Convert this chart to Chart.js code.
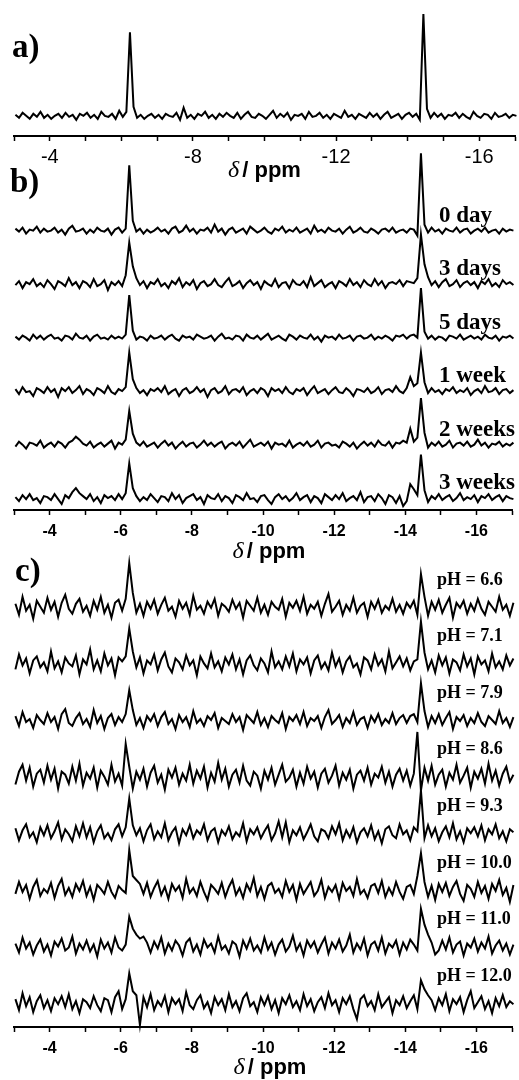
<!DOCTYPE html>
<html>
<head>
<meta charset="utf-8">
<script src="https://cdn.jsdelivr.net/npm/chart.js@4.4.0/dist/chart.umd.min.js"></script>
<style>
  html, body { margin: 0; padding: 0; background: #fff; }
  body { width: 519px; height: 1080px; position: relative; overflow: hidden; }
  .panel { position: absolute; left: 0; width: 519px; }
  #panelA { top: 0; height: 185px; }
  #panelB { top: 145px; height: 425px; }
  #panelC { top: 555px; height: 525px; }
</style>
</head>
<body>
<div class="panel" id="panelA"><canvas id="chartA"></canvas></div>
<div class="panel" id="panelB"><canvas id="chartB"></canvas></div>
<div class="panel" id="panelC"><canvas id="chartC"></canvas></div>
<script>
// chemical shift of each sample point (ppm), 0.1 ppm apart
const shifts = [];
for (let i = 0; i <= 140; i++) shifts.push(+(-3.04 - 0.1 * i).toFixed(2));

// a) reference spectrum
const specA = [
  1,-2,3,0,-3,2,-1,4,-2,1,
  -3,0,2,-2,3,-1,1,-4,2,0,
  3,-2,1,-3,4,0,-1,2,-3,5,
  -1,4,83,9,-2,1,-3,0,2,-2,
  1,-3,2,0,-1,3,-4,8,-2,1,
  -3,2,0,4,-2,1,-3,2,-1,3,
  0,-2,3,-3,1,4,-1,-2,2,0,
  -3,1,5,-2,2,-1,3,-4,1,0,
  2,-3,4,-1,0,3,-2,1,-3,2,
  0,-2,5,-1,1,-3,2,0,-2,3,
  -1,2,-3,1,4,-2,0,2,-3,1,
  3,-1,2,-4,101,7,-2,3,-1,2,
  -3,1,0,3,-2,2,-1,-3,4,0,
  -2,2,1,-3,3,-1,0,2,-2,1,
  0
];

// b) ageing series
const day0 = [
  2,-1,3,-3,1,0,4,-2,2,-1,
  0,3,-2,1,-4,2,5,-1,0,2,
  -3,1,-2,3,0,-1,2,-4,1,3,
  -2,2,66,10,-1,2,-3,1,-2,0,
  3,-1,1,-3,2,4,-2,0,5,-1,
  2,-3,1,0,3,-2,6,-1,2,-4,
  1,3,-2,0,2,-3,4,1,-2,0,
  3,-1,-3,2,0,4,-2,1,-1,3,
  -2,0,2,-3,5,-1,1,-2,3,0,
  -1,2,-3,1,4,-2,0,3,-1,-2,
  2,0,-3,1,2,-1,3,-2,0,1,
  -2,2,1,-5,78,6,-2,3,-1,1,
  -3,2,0,-1,3,-2,1,2,-3,0,
  2,-1,3,-2,0,1,-3,2,-1,1,
  0
];
const day3 = [
  -1,3,-4,2,0,5,-2,1,-3,4,
  0,-5,3,1,-2,6,-1,2,-4,3,
  1,-3,5,-2,0,4,-6,2,-1,3,
  -2,9,42,18,6,-1,3,-4,2,0,
  5,-2,1,-4,3,0,6,-3,2,-1,
  4,-5,1,3,-2,0,5,-1,-3,2,
  6,-2,0,3,-4,1,4,-1,2,-5,
  3,0,-2,5,-3,1,2,-4,4,0,
  -1,3,-3,7,-2,1,4,-3,0,2,
  -4,3,1,-2,5,-1,2,-3,4,0,
  -2,5,-1,3,-4,1,2,0,4,-2,
  3,2,1,6,50,20,7,-1,3,-3,
  2,5,-2,0,4,-3,1,3,-1,2,
  -4,3,0,5,-2,1,-3,4,0,2,
  -1
];
const day5 = [
  1,-2,2,0,-3,3,-1,2,-2,1,
  3,-1,0,-3,2,1,-2,4,0,-1,
  2,-3,1,3,-1,0,-2,2,-1,1,
  -1,3,43,7,-2,1,0,-3,2,-1,
  0,2,-2,1,3,-1,-3,2,0,1,
  -2,3,1,-1,0,2,-3,1,4,-1,
  0,-2,2,1,-3,3,0,-1,2,-2,
  1,4,-2,0,2,-1,-3,3,1,-2,
  2,0,-1,3,-2,1,-4,2,0,1,
  -2,3,-1,0,2,-3,1,2,-1,0,
  3,-2,1,-1,2,0,-3,2,1,3,
  -1,2,3,0,50,6,-1,2,-2,1,
  0,-3,2,1,-1,3,-2,0,2,-1,
  1,-2,3,0,-1,2,-3,1,0,2,
  -1
];
const week1 = [
  2,-3,4,-1,0,-5,3,1,-2,4,
  -1,2,-6,3,0,4,-2,1,5,-3,
  2,0,-4,3,1,-2,5,-1,-3,2,
  0,4,39,12,3,-2,1,-4,2,0,
  3,-1,5,-3,0,2,-5,1,3,-2,
  0,4,-1,2,-6,1,3,-2,0,5,
  -3,1,2,-1,4,-4,0,2,-2,3,
  1,-5,3,0,2,-2,4,-1,-3,2,
  0,3,-4,1,5,-2,0,2,-3,1,
  4,-1,-2,3,0,-5,2,1,-1,3,
  -2,0,4,-3,1,2,-1,5,0,-2,
  3,14,5,8,39,9,-2,3,-1,1,
  -3,2,0,4,-2,1,-1,3,-4,0,
  2,-2,5,-1,0,3,-3,1,2,-2,
  1
];
const week2 = [
  -2,3,0,-4,2,1,-1,4,-3,0,
  2,-2,3,1,-3,2,4,8,5,1,
  -1,3,-3,0,2,-2,1,4,-4,2,
  0,5,34,11,2,-1,3,-2,0,2,
  -3,1,4,-1,2,-4,0,3,-2,1,
  2,-3,0,4,-1,2,-2,1,3,-4,
  0,2,-1,3,-3,1,5,-2,0,2,
  -1,3,-4,2,0,1,-2,4,-3,0,
  2,-1,3,-2,0,4,-3,1,2,-1,
  0,-3,3,1,-2,2,-4,0,3,-1,
  2,-2,4,0,-1,3,-3,2,1,4,
  2,16,3,7,47,12,-3,2,-1,3,
  -2,0,4,-3,1,2,-1,3,-2,0,
  5,-1,2,-3,1,0,3,-2,1,-1,
  2
];
const week3 = [
  1,-3,3,-1,4,-2,0,-5,2,1,
  -2,4,-1,-6,3,0,6,10,5,2,
  -1,4,-3,1,-5,3,0,2,-2,4,
  -1,5,35,10,2,-3,1,-2,4,0,
  -4,2,1,-3,5,-1,3,-5,0,2,
  4,-2,1,-6,3,0,-1,4,-3,2,
  0,-5,3,1,-2,5,-1,0,-4,2,
  3,-2,-6,1,4,-1,2,-3,0,5,
  -2,1,3,-4,2,0,-5,4,1,-2,
  3,-1,5,-3,0,2,-2,6,-4,1,
  2,-3,4,0,-6,3,1,-5,2,-8,
  -3,14,9,3,44,8,-4,2,-1,4,
  -2,1,3,-3,0,5,-2,1,-1,3,
  -4,2,0,4,-2,1,3,-3,2,0,
  -1
];
const ageLabels = ['0 day', '3 days', '5 days', '1 week', '2 weeks', '3 weeks'];

// c) pH series
const ph66 = [
  3,-8,10,-4,2,-12,6,0,-6,9,
  -3,5,-10,4,12,-2,-7,3,8,-5,
  1,-9,6,-3,10,-6,2,-11,4,7,
  -4,8,44,14,-6,3,-9,5,-2,7,
  -7,2,9,-4,0,-10,6,-2,4,-8,
  11,-3,1,-7,5,-1,8,-9,3,0,
  -5,7,-2,4,-11,6,1,-4,9,-6,
  2,-8,5,0,-3,8,-10,4,-1,6,
  -4,10,-7,2,-2,5,-9,3,13,-5,
  0,6,-8,2,-4,9,-6,1,4,-10,
  5,-2,7,-6,1,-3,8,-5,2,-7,
  4,-1,6,-8,33,10,-9,5,-3,7,
  -6,2,9,-11,4,-1,6,-7,3,-4,
  8,-2,-8,5,0,-5,10,-3,2,-9,
  4
];
const ph71 = [
  -6,9,-2,5,-10,3,7,-4,1,-8,
  12,-5,2,-9,6,0,-3,8,-11,4,
  -1,14,-6,3,-8,10,-2,5,-12,6,
  2,7,35,12,-4,6,-10,3,-1,9,
  -7,4,11,-3,-9,5,1,-6,8,-2,
  3,-12,7,0,-5,10,-4,2,-8,6,
  -1,9,-6,4,-11,3,8,-2,-7,5,
  0,-9,12,-4,2,-6,7,-3,10,-8,
  4,-1,6,-10,3,8,-5,1,-7,11,
  -3,5,-9,2,7,-4,0,-11,6,3,
  -6,9,-2,4,-8,12,-5,1,7,-3,
  5,-7,2,4,42,11,-6,3,-9,8,
  -2,6,-10,4,1,-7,9,-3,5,-11,
  7,-1,3,-8,10,-4,2,-6,8,-2,
  5
];
const ph79 = [
  4,-6,8,-2,1,-8,5,0,-4,7,
  -2,3,-9,6,11,-3,-6,2,7,-4,
  1,-7,10,-3,4,-9,2,6,-5,3,
  -2,6,30,10,-5,2,-8,4,-1,6,
  -6,3,8,-4,1,-9,5,-2,3,-7,
  9,-3,1,-6,4,0,7,-8,2,-1,
  -4,6,-2,3,-10,5,1,-3,8,-5,
  2,-7,4,0,-3,7,-9,3,-1,5,
  -4,8,-6,2,-1,4,-8,3,10,-4,
  0,5,-7,2,-3,8,-5,1,3,-8,
  4,-2,6,-5,1,-3,7,-4,2,5,
  -3,4,6,-2,37,9,-7,4,-3,6,
  -5,2,8,-9,3,-1,5,-6,2,-3,
  7,-2,-6,4,0,-4,9,-3,2,-7,
  3
];
const ph86 = [
  -8,5,12,-4,9,-10,3,7,-6,11,
  -3,8,-12,5,2,-7,10,-4,13,-9,
  4,-2,9,-11,6,0,-8,12,-5,3,
  -9,33,10,-12,5,-3,8,-10,4,11,
  -6,2,-13,7,-1,9,-8,3,-4,12,
  -7,6,-2,10,-11,4,-5,14,-3,8,
  -10,2,7,-6,11,-4,-9,5,1,-12,
  6,-3,9,-8,2,12,-5,-1,7,-10,
  4,-7,10,-2,5,-11,3,8,-6,1,
  11,-9,4,-3,7,-12,2,6,-4,9,
  -8,3,-1,10,-6,5,-10,2,8,-4,
  6,-9,3,45,-14,9,-4,11,-8,2,
  7,-10,4,-3,12,-6,1,9,-11,5,
  -2,8,-7,13,-4,6,-9,3,10,-5,
  2
];
const ph93 = [
  5,-7,3,9,-4,1,-9,6,-2,8,
  -5,2,11,-6,4,-1,-8,7,-3,10,
  -4,6,-9,2,8,-5,0,-7,4,9,
  -3,6,35,8,-2,5,-8,3,9,-6,
  2,-4,10,-7,1,6,-10,4,-2,8,
  -5,3,-1,9,-7,2,5,-9,3,-2,
  7,-6,1,-3,10,-8,4,-1,6,-5,
  2,8,-7,0,12,-4,11,-9,3,-2,
  6,-6,1,9,-3,-8,4,2,-5,7,
  -1,10,-7,3,-4,6,-9,1,5,-3,
  8,-6,2,-10,4,7,-2,-5,9,-1,
  3,-7,6,2,43,-5,8,-3,5,-8,
  1,7,-4,10,-6,2,-9,5,0,6,
  -3,8,-7,4,-1,9,-5,2,-8,4,
  1
];
const ph100 = [
  -4,8,-2,5,-9,3,10,-6,1,-3,
  7,-8,4,11,-5,2,-7,6,-1,9,
  -6,3,-10,5,1,-4,8,-2,-8,4,
  0,-3,40,14,10,6,-4,7,-7,2,
  9,-5,3,-9,6,-1,4,-8,11,-3,
  2,-6,8,-2,-10,5,1,-4,7,-7,
  3,10,-5,2,-8,6,-1,12,-6,3,
  -9,4,7,-3,1,-7,9,-2,5,-10,
  6,-4,2,8,-6,-1,10,-8,3,-2,
  5,-9,7,-1,3,-6,11,-4,0,-8,
  4,6,-3,9,-7,2,-5,8,-2,-9,
  3,5,-4,14,37,8,-7,4,-10,6,
  -2,7,-6,3,9,-4,-11,5,1,-7,
  8,-3,4,-9,6,-1,10,-5,2,-12,
  5
];
const ph110 = [
  3,-6,9,-2,4,-8,1,7,-5,2,
  -9,5,0,8,-4,-1,10,-7,3,-3,
  6,-5,2,-10,7,-2,4,-6,9,-1,
  -4,2,30,18,12,8,10,4,-6,5,
  -2,9,-7,3,-4,6,1,-9,4,8,
  -5,2,-8,7,-1,3,-6,10,-3,1,
  -7,5,2,-10,6,-2,8,-4,1,-6,
  9,-3,4,-8,2,7,-5,0,11,-4,
  3,-9,6,-1,5,-6,2,9,-7,4,
  -2,7,-5,1,12,-6,3,-3,8,-9,
  2,5,-4,9,-7,3,-1,6,-8,4,
  -3,7,2,-4,38,22,12,4,-8,-4,
  6,-3,9,-6,2,5,-9,3,-1,8,
  -5,4,-2,10,-7,1,6,-4,3,-8,
  2
];
const ph120 = [
  4,-7,10,-3,6,-9,2,8,-5,3,
  -8,5,-1,7,-4,9,-6,2,-10,4,
  1,-5,7,-2,-8,5,3,-9,6,12,
  -6,4,30,12,8,-22,6,-4,9,-7,
  2,-3,7,-9,5,-1,4,-8,11,-2,
  -6,3,8,-5,1,-10,6,-2,4,-7,
  9,-4,2,-8,5,10,-3,1,-9,6,
  -2,7,-6,3,-10,5,-1,8,-4,2,
  -7,9,-3,4,-8,1,6,-5,10,-2,
  3,-9,5,-1,7,-6,-16,4,8,-3,
  2,-7,9,-4,1,6,-10,3,-2,7,
  -5,2,8,-6,23,14,8,3,-7,5,
  -2,9,-8,4,-1,6,-9,3,12,-5,
  1,7,-6,2,-10,5,-3,8,-4,2,
  -1
];
const phLabels = ['pH = 6.6', 'pH = 7.1', 'pH = 7.9', 'pH = 8.6', 'pH = 9.3', 'pH = 10.0', 'pH = 11.0', 'pH = 12.0'];

function toPoints(values) {
  return values.map((v, i) => ({ x: shifts[i], y: v }));
}

// draws panel letter, trace captions and the "δ / ppm" axis title
const panelText = {
  id: 'panelText',
  afterDraw(chart, args, opts) {
    const ctx = chart.ctx;
    const area = chart.chartArea;
    ctx.save();
    ctx.fillStyle = '#000';
    ctx.textBaseline = 'middle';
    ctx.textAlign = 'left';

    ctx.font = 'bold 33px "Liberation Serif"';
    ctx.fillText(opts.letter, opts.letterX, opts.letterY);

    if (opts.labels) {
      ctx.font = opts.labelFont;
      opts.labels.forEach((txt, i) => {
        const scale = chart.scales['y' + i];
        ctx.fillText(txt, opts.labelX, scale.getPixelForValue(opts.labelAt));
      });
    }

    const cx = (area.left + area.right) / 2 + opts.titleShift;
    ctx.font = 'italic 24px "Liberation Serif"';
    const wd = ctx.measureText('δ').width;
    ctx.font = 'bold 22px "Liberation Sans"';
    const wr = ctx.measureText('/ ppm').width;
    const x0 = cx - (wd + 3 + wr) / 2;
    ctx.font = 'italic 24px "Liberation Serif"';
    ctx.fillText('δ', x0, opts.titleY);
    ctx.font = 'bold 22px "Liberation Sans"';
    ctx.fillText('/ ppm', x0 + wd + 3, opts.titleY);
    ctx.restore();
  }
};

function xAxis(labelEvery, font, pad) {
  return {
    type: 'linear', position: 'bottom', reverse: true, min: -17, max: -3,
    border: { display: true, color: '#000', width: 2 },
    grid: { drawOnChartArea: false, drawTicks: true, tickLength: 5, tickWidth: 1.5, tickColor: '#000' },
    ticks: {
      stepSize: 1, autoSkip: false, maxRotation: 0, color: '#000', padding: pad, font: font,
      callback: v => (v % labelEvery === 0 && v !== -3 && v !== -17) ? String(v) : ''
    }
  };
}

function buildChart(canvasId, series, yMin, yMax, padding, xOpts, textOpts) {
  const scales = { x: xOpts };
  const datasets = series.map((vals, i) => {
    scales['y' + i] = { type: 'linear', position: 'right', stack: 'traces', stackWeight: 1, min: yMin, max: yMax, display: false };
    return {
      data: toPoints(vals), yAxisID: 'y' + i, xAxisID: 'x',
      borderColor: '#000', borderWidth: 2, pointRadius: 0, tension: 0, clip: false
    };
  });
  return new Chart(document.getElementById(canvasId), {
    type: 'line',
    data: { datasets },
    options: {
      responsive: true, maintainAspectRatio: false, animation: false, events: [],
      layout: { padding },
      scales,
      plugins: { legend: { display: false }, tooltip: { enabled: false }, panelText: textOpts }
    },
    plugins: [panelText]
  });
}

buildChart('chartA', [specA], -20, 105,
  { top: 10, bottom: 12, left: 14, right: 1 },
  xAxis(4, { family: 'Liberation Sans', size: 20 }, 4),
  { letter: 'a)', letterX: 12, letterY: 48, titleY: 171, titleShift: 0 });

buildChart('chartB', [day0, day3, day5, week1, week2, week3], -12, 42,
  { top: 44, bottom: 21.8, left: 14, right: 1 },
  xAxis(2, { family: 'Liberation Sans', size: 16, weight: 'bold' }, 7),
  { letter: 'b)', letterX: 10, letterY: 38, titleY: 407, titleShift: 6,
    labels: ageLabels, labelFont: 'bold 23px "Liberation Serif"', labelX: 439, labelAt: 15 });

buildChart('chartC', [ph66, ph71, ph79, ph86, ph93, ph100, ph110, ph120], -24, 33,
  { top: 19, bottom: 14.8, left: 14, right: 1 },
  xAxis(2, { family: 'Liberation Sans', size: 16, weight: 'bold' }, 7),
  { letter: 'c)', letterX: 15, letterY: 17, titleY: 513, titleShift: 7,
    labels: phLabels, labelFont: 'bold 18px "Liberation Serif"', labelX: 437, labelAt: 27 });
</script>
</body>
</html>
